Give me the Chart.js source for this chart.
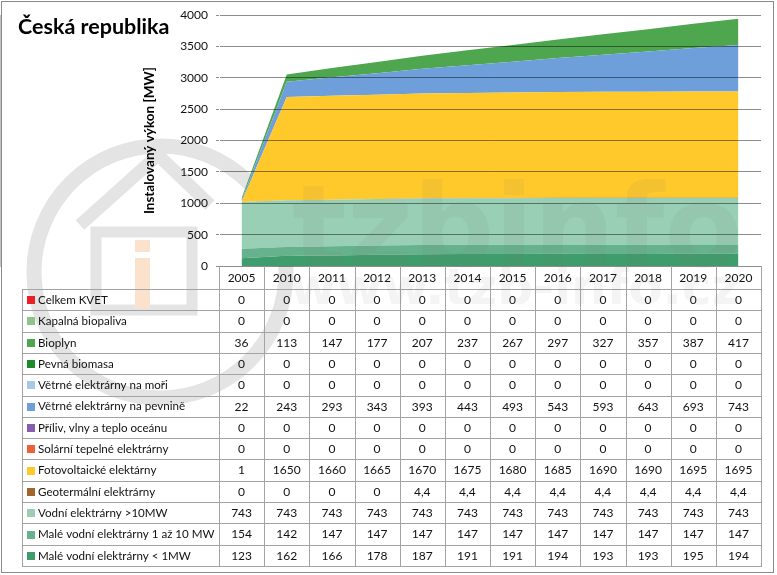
<!DOCTYPE html>
<html>
<head>
<meta charset="utf-8">
<script src="https://cdn.jsdelivr.net/npm/chart.js@4/dist/chart.umd.min.js"></script>
<style>
html,body{margin:0;padding:0;background:#fff;}
#wrap{width:777px;height:575px;position:relative;}
</style>
</head>
<body>
<div id="wrap"><canvas id="c" width="777" height="575"></canvas></div>
<script>
// ---- data ----
const years = ['2005','2010','2011','2012','2013','2014','2015','2016','2017','2018','2019','2020'];
const yTicks = [0,500,1000,1500,2000,2500,3000,3500,4000];

const celkemKVET      = [0,0,0,0,0,0,0,0,0,0,0,0];
const kapalnaBio      = [0,0,0,0,0,0,0,0,0,0,0,0];
const bioplyn         = [36,113,147,177,207,237,267,297,327,357,387,417];
const pevnaBiomasa    = [0,0,0,0,0,0,0,0,0,0,0,0];
const vetrMore        = [0,0,0,0,0,0,0,0,0,0,0,0];
const vetrPevnina     = [22,243,293,343,393,443,493,543,593,643,693,743];
const priliv          = [0,0,0,0,0,0,0,0,0,0,0,0];
const solarniTep      = [0,0,0,0,0,0,0,0,0,0,0,0];
const fotovolt        = [1,1650,1660,1665,1670,1675,1680,1685,1690,1690,1695,1695];
const geoterm         = [0,0,0,0,4.4,4.4,4.4,4.4,4.4,4.4,4.4,4.4];
const vodniVelke      = [743,743,743,743,743,743,743,743,743,743,743,743];
const maleVodni1az10  = [154,142,147,147,147,147,147,147,147,147,147,147];
const maleVodniPod1   = [123,162,166,178,187,191,191,194,193,193,195,194];

// table rows, top to bottom (legend order)
const seriesNames = [
  'Celkem KVET','Kapalná biopaliva','Bioplyn','Pevná biomasa','Větrné elektrárny na moři',
  'Větrné elektrárny na pevnině','Příliv, vlny a teplo oceánu','Solární tepelné elektrárny',
  'Fotovoltaické elektárny','Geotermální elektrárny','Vodní elektrárny >10MW',
  'Malé vodní elektrárny 1 až 10 MW','Malé vodní elektrárny < 1MW'
];
const seriesValues = [celkemKVET,kapalnaBio,bioplyn,pevnaBiomasa,vetrMore,vetrPevnina,priliv,
  solarniTep,fotovolt,geoterm,vodniVelke,maleVodni1az10,maleVodniPod1];
const seriesColors = ['#e8202a','#8cc48c','#4ea64e','#1e8a2e','#a8c8e8','#6f9fdb','#8a5cb0',
  '#f06038','#ffc92c','#a0662c','#98cfb5','#66b28e','#3f9c6c'];

function fmt(v){ return String(v).replace('.', ','); }

// datasets: bottom of stack first
const datasets = [];
for (let i = seriesNames.length - 1, k = 0; i >= 0; i--, k++) {
  datasets.push({
    label: seriesNames[i],
    data: seriesValues[i],
    backgroundColor: seriesColors[i],
    borderColor: seriesColors[i],
    borderWidth: 0,
    pointRadius: 0,
    pointHoverRadius: 0,
    fill: k === 0 ? 'origin' : '-1',
    tension: 0
  });
}

const FONT = 'Lato, "Open Sans", sans-serif';

const frame = {
  id: 'frame',
  beforeDraw(chart) {
    const ctx = chart.ctx;
    ctx.save();
    ctx.fillStyle = '#fff';
    ctx.fillRect(0, 0, chart.width, chart.height);
    // watermark logo (faint)
    ctx.strokeStyle = '#e4e4e4';
    ctx.lineWidth = 15;
    ctx.beginPath();
    ctx.arc(160, 272, 126, 0, Math.PI * 2);
    ctx.stroke();
    ctx.lineWidth = 13;
    ctx.beginPath();
    ctx.moveTo(80, 225); ctx.lineTo(158, 155); ctx.lineTo(210, 205);
    ctx.stroke();
    ctx.lineWidth = 11;
    ctx.strokeRect(96, 232, 96, 78);
    ctx.fillStyle = '#fbe2cc';
    ctx.fillRect(135, 240, 15, 12);
    ctx.fillRect(135, 258, 15, 50);
    ctx.restore();
  },
  afterDraw(chart) {
    const ctx = chart.ctx;
    const xs = chart.scales.x;
    const ca = chart.chartArea;
    const colW = (ca.right - ca.left) / years.length;
    const tLeft = 22, lblRight = ca.left, tRight = ca.right;
    const headTop = ca.bottom, headBot = 289;
    const rowH = (566 - headBot) / seriesNames.length;
    ctx.save();
    // title
    ctx.fillStyle = '#000';
    ctx.font = 'bold 21.5px ' + FONT;
    ctx.textBaseline = 'alphabetic';
    ctx.textAlign = 'left';
    ctx.fillText('Česká republika', 18, 34);

    // table lines
    ctx.strokeStyle = '#a3a3a3';
    ctx.lineWidth = 1;
    ctx.beginPath();
    for (let i = 0; i <= years.length; i++) {
      const x = Math.round(lblRight + i * colW) + 0.5;
      ctx.moveTo(x, headTop); ctx.lineTo(x, 566);
    }
    ctx.moveTo(tLeft + 0.5, headBot); ctx.lineTo(tLeft + 0.5, 566);
    for (let r = 0; r <= seriesNames.length; r++) {
      const y = Math.round(headBot + r * rowH) + 0.5;
      ctx.moveTo(tLeft, y); ctx.lineTo(tRight + 1, y);
    }
    ctx.stroke();

    // header labels
    ctx.fillStyle = '#111';
    ctx.font = '12px ' + FONT;
    ctx.textAlign = 'center';
    ctx.textBaseline = 'middle';
    years.forEach((y, i) => {
      ctx.fillText(y, xs.getPixelForValue(i), (headTop + headBot) / 2 + 1);
    });
    // rows
    seriesNames.forEach((name, r) => {
      const cy = headBot + r * rowH + rowH / 2 + 0.5;
      ctx.fillStyle = seriesColors[r];
      ctx.fillRect(27, Math.round(cy - 4), 8, 8);
      ctx.fillStyle = '#111';
      ctx.textAlign = 'left';
      ctx.font = '11.6px ' + FONT;
      ctx.fillText(name, 38, cy);
      ctx.textAlign = 'center';
      ctx.font = '12px ' + FONT;
      seriesValues[r].forEach((v, i) => {
        ctx.fillText(fmt(v), xs.getPixelForValue(i), cy);
      });
    });

    // faint watermark texts
    ctx.globalAlpha = 0.08;
    ctx.fillStyle = '#707070';
    ctx.font = 'bold 114px "DejaVu Sans", sans-serif';
    ctx.textAlign = 'left';
    ctx.textBaseline = 'alphabetic';
    ctx.fillText('tzbinfo', 292, 266);
    ctx.font = 'bold 50px "DejaVu Sans", sans-serif';
    ctx.fillText('www.tzb-info.cz', 290, 304);
    ctx.globalAlpha = 1;

    // outer frame
    ctx.strokeStyle = '#8a8a8a';
    ctx.lineWidth = 1;
    ctx.strokeRect(1.5, 1.5, 772, 571);
    ctx.restore();
  }
};

new Chart(document.getElementById('c'), {
  type: 'line',
  data: { labels: years, datasets },
  plugins: [frame],
  options: {
    responsive: false,
    animation: false,
    events: [],
    layout: { padding: { left: 140, right: 16, top: 15, bottom: 309 } },
    plugins: {
      legend: { display: false },
      tooltip: { enabled: false },
      title: { display: false },
      filler: { propagate: false }
    },
    elements: { line: { borderWidth: 0 } },
    scales: {
      x: {
        type: 'category',
        display: false,
        offset: true
      },
      y: {
        stacked: true,
        min: 0,
        max: 4000,
        afterFit(s) { s.width = 79; },
        afterBuildTicks(s) { s.ticks = yTicks.map(v => ({ value: v })); },
        ticks: {
          color: '#111',
          font: { family: FONT, size: 12 },
          padding: 8,
          callback: (v) => String(v)
        },
        grid: {
          color: 'rgba(0,0,0,0.45)',
          tickLength: 3,
          z: 1
        },
        border: { display: true, color: '#8a8a8a' },
        title: {
          display: true,
          text: 'Instalovaný výkon [MW]',
          color: '#000',
          font: { family: FONT, size: 13.5, weight: 'bold' },
          padding: { top: 2, bottom: 0 }
        }
      }
    }
  }
});
</script>
</body>
</html>
